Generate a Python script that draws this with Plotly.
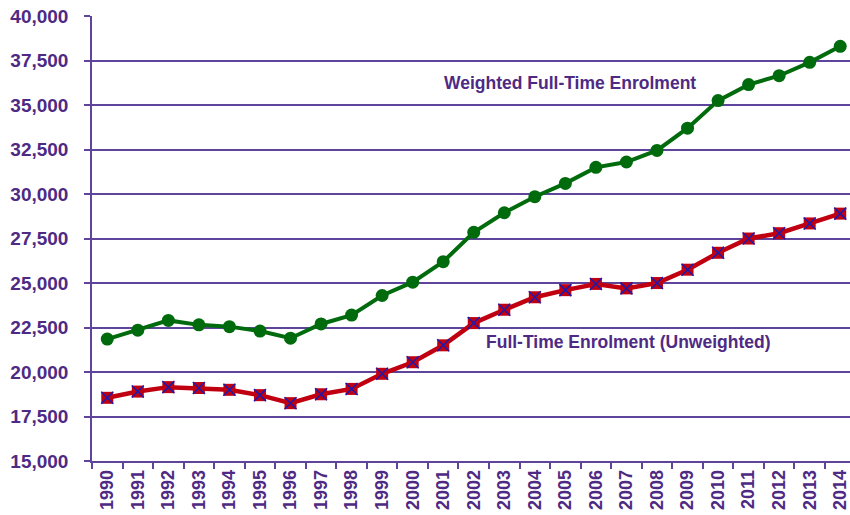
import plotly.graph_objects as go

years = [str(y) for y in range(1990, 2015)]
weighted = [21850, 22350, 22900, 22650, 22550, 22300, 21900, 22700, 23200, 24300,
            25050, 26200, 27850, 28950, 29850, 30600, 31500, 31800, 32450, 33700,
            35250, 36150, 36650, 37400, 38300]
unweighted = [18550, 18900, 19150, 19100, 19000, 18700, 18250, 18750, 19050, 19900,
              20550, 21500, 22750, 23500, 24200, 24600, 24950, 24700, 25000, 25750,
              26700, 27500, 27800, 28350, 28900]
y_ticks = [15000, 17500, 20000, 22500, 25000, 27500, 30000, 32500, 35000, 37500, 40000]
label_weighted = "Weighted Full-Time Enrolment"
label_unweighted = "Full-Time Enrolment (Unweighted)"

PURPLE = "#4E2A84"
GRID = "#5E449A"
FONT = "Liberation Sans, Arial, sans-serif"

fig = go.Figure()
fig.add_trace(go.Scatter(x=years, y=weighted, mode="lines+markers",
                         line=dict(color="#006B0C", width=4),
                         marker=dict(symbol="circle", size=13, color="#006B0C"),
                         showlegend=False, hoverinfo="skip", cliponaxis=False))
fig.add_trace(go.Scatter(x=years, y=unweighted, mode="lines+markers",
                         line=dict(color="#C00010", width=4.5),
                         marker=dict(symbol="square", size=12, color="#C00010",
                                     line=dict(width=0)),
                         showlegend=False, hoverinfo="skip", cliponaxis=False))
fig.add_trace(go.Scatter(x=years, y=unweighted, mode="markers",
                         marker=dict(symbol="x-thin-open", size=12, color="#1A1AB0",
                                     line=dict(color="#1A1AB0", width=1.5)),
                         showlegend=False, hoverinfo="skip", cliponaxis=False))

fig.add_annotation(x=15.15, y=36240, xref="x", yref="y", text=label_weighted,
                   showarrow=False, font=dict(family=FONT, size=17.5, color=PURPLE, weight="bold"))
fig.add_annotation(x=17.08, y=21690, xref="x", yref="y", text=label_unweighted,
                   showarrow=False, font=dict(family=FONT, size=17.5, color=PURPLE, weight="bold"))

fig.update_layout(
    width=850, height=515,
    margin=dict(l=92, r=0, t=16, b=54),
    paper_bgcolor="white", plot_bgcolor="white",
    hovermode=False,
    xaxis=dict(type="category", range=[-0.5, 24.32], tickson="boundaries",
               automargin=False, ticklabeloverflow="allow",
               ticks="outside", ticklen=6, tickcolor=GRID, tickwidth=1.5,
               showline=True, linecolor=GRID, linewidth=1.5,
               showgrid=False, tickangle=-90,
               tickfont=dict(family=FONT, size=18, color=PURPLE, weight="bold")),
    yaxis=dict(range=[15000, 40005], tickvals=y_ticks, automargin=False,
               ticktext=[f"{v:,}" for v in y_ticks], ticklabeloverflow="allow",
               ticks="outside", ticklen=6, tickcolor=GRID, tickwidth=1.5,
               showline=True, linecolor=GRID, linewidth=1.5,
               showgrid=True, gridcolor=GRID, gridwidth=1.5, zeroline=False,
               ticklabelstandoff=12,
               tickfont=dict(family=FONT, size=19, color=PURPLE, weight="bold")),
)

fig.write_html("out.html", config={"displayModeBar": False},
               post_script="document.body.style.margin='0';document.body.style.overflow='hidden';")
